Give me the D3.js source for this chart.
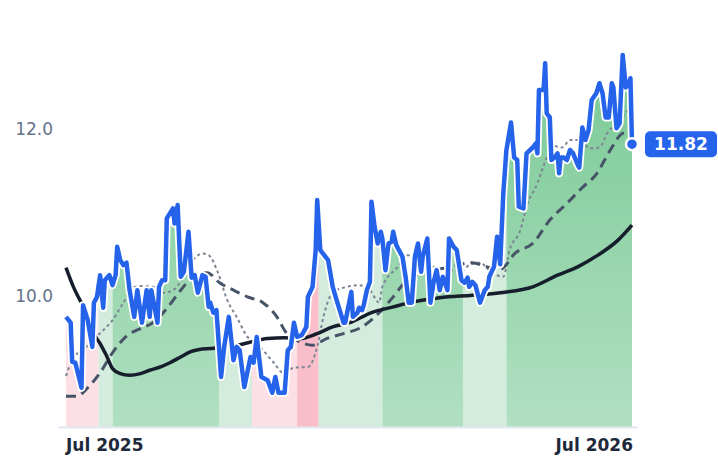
<!DOCTYPE html>
<html><head><meta charset="utf-8">
<script src="https://cdn.jsdelivr.net/npm/d3@7"></script>
<style>body{margin:0;background:#fff}svg{display:block;font-family:"DejaVu Sans",sans-serif}</style>
</head><body><svg id="c" width="718" height="464"></svg>
<script>
const startDate = "2025-07-01";
const endDate = "2026-07-01";
const xTickLabels = ["Jul 2025", "Jul 2026"];
const yTicks = [10.0, 12.0];
const lastValue = 11.82;
// price: [day offset, value]
const price = [[0,9.75],[3,9.68],[4,9.21],[6,9.20],[10,8.90],[11,9.89],[14,9.71],[17,9.39],[18,9.92],[20,9.99],[22,10.25],[24,9.86],[25,10.19],[28,10.25],[30,10.13],[32,10.25],[33,10.59],[35,10.43],[37,10.37],[39,10.40],[41,10.07],[44,9.75],[46,10.07],[49,9.68],[52,10.07],[54,9.75],[55,10.07],[59,9.68],[60,10.11],[62,10.19],[64,10.19],[65,10.93],[67,10.99],[69,11.05],[70,10.87],[72,11.09],[74,10.23],[76,10.29],[79,10.77],[81,10.22],[83,10.25],[85,10.04],[88,10.25],[90,10.23],[92,9.87],[93,9.92],[95,9.80],[97,9.83],[100,9.03],[102,9.39],[105,9.75],[108,9.23],[110,9.39],[112,9.35],[115,8.91],[119,9.27],[121,9.20],[123,9.51],[126,9.03],[130,8.99],[133,8.84],[135,9.03],[137,8.84],[141,8.84],[143,9.35],[145,9.39],[147,9.68],[149,9.51],[152,9.53],[155,9.63],[156,9.99],[159,10.11],[161,10.55],[162,11.15],[164,10.55],[169,10.43],[172,10.11],[175,9.92],[177,9.80],[179,9.68],[180,9.68],[184,10.05],[185,9.75],[188,9.80],[189,9.86],[191,9.83],[192,9.89],[194,10.07],[196,10.17],[197,11.13],[199,10.83],[201,10.63],[203,10.77],[204,10.69],[206,10.31],[208,10.63],[210,10.65],[211,10.77],[213,10.61],[217,10.47],[219,10.23],[221,9.92],[223,9.92],[225,10.47],[227,10.63],[229,10.29],[230,10.47],[233,10.69],[235,9.92],[237,10.16],[239,10.31],[241,10.07],[243,10.23],[246,10.07],[247,10.69],[250,10.59],[252,10.55],[255,10.19],[257,10.16],[259,10.22],[260,10.11],[262,10.17],[264,10.13],[267,9.92],[270,10.07],[272,10.11],[273,10.23],[276,10.35],[278,10.71],[280,10.38],[282,11.23],[284,11.75],[287,12.08],[289,11.66],[291,11.63],[292,11.07],[295,11.05],[297,11.71],[301,11.78],[303,11.83],[304,11.71],[305,12.47],[308,12.47],[309,12.79],[310,12.19],[312,12.14],[313,11.63],[315,11.66],[317,11.71],[318,11.47],[319,11.66],[321,11.66],[323,11.63],[325,11.75],[327,11.71],[330,11.57],[331,11.54],[333,12.02],[335,11.87],[337,11.99],[339,12.35],[342,12.43],[344,12.55],[346,12.43],[348,12.14],[350,12.14],[352,12.55],[353,12.50],[355,12.01],[357,12.07],[359,12.89],[361,12.50],[363,12.55],[364,12.61],[365,11.82]];
const maLong = [[0,10.34],[5,10.10],[9,9.95],[14,9.79],[17,9.59],[22,9.43],[26,9.29],[30,9.13],[35,9.07],[41,9.05],[48,9.07],[54,9.11],[61,9.15],[67,9.20],[74,9.27],[80,9.33],[86,9.36],[93,9.37],[108,9.40],[130,9.49],[141,9.50],[151,9.49],[162,9.55],[172,9.63],[183,9.68],[197,9.80],[211,9.87],[224,9.93],[241,9.98],[262,10.01],[280,10.04],[301,10.11],[317,10.25],[330,10.35],[343,10.49],[356,10.67],[365,10.85]];
const maMid = [[0,8.80],[7,8.80],[14,8.90],[22,9.08],[30,9.32],[39,9.52],[48,9.61],[56,9.68],[65,9.85],[74,10.07],[82,10.23],[91,10.28],[99,10.16],[108,10.07],[117,9.99],[127,9.92],[136,9.75],[142,9.56],[151,9.45],[159,9.41],[168,9.49],[179,9.55],[190,9.62],[202,9.80],[211,9.99],[220,10.19],[233,10.29],[246,10.34],[262,10.40],[271,10.35],[280,10.32],[290,10.52],[301,10.63],[312,10.91],[323,11.11],[333,11.30],[342,11.46],[351,11.75],[359,11.95],[365,11.97]];
const maShort = [[0,9.04],[5,9.27],[11,9.35],[17,9.47],[24,9.59],[30,9.71],[37,9.92],[43,10.10],[48,10.12],[56,10.11],[63,10.04],[69,10.07],[76,10.23],[82,10.43],[88,10.51],[92,10.49],[98,10.28],[104,9.95],[110,9.75],[117,9.51],[125,9.39],[134,9.20],[140,9.08],[147,9.14],[156,9.15],[162,9.39],[166,9.75],[172,10.04],[181,10.11],[189,10.13],[196,10.07],[202,9.92],[204,10.11],[214,10.35],[220,10.49],[226,10.49],[234,10.40],[241,10.31],[247,10.31],[254,10.29],[260,10.37],[267,10.40],[273,10.31],[282,10.23],[286,10.55],[293,10.79],[297,11.07],[304,11.35],[310,11.66],[314,11.80],[320,11.78],[325,11.87],[331,11.87],[338,11.77],[344,11.78],[349,11.95],[355,12.07],[362,12.22],[365,12.28]];
// regime bands: [startDay, endDay, type]
const bands = [[0,21,"weakBear"],[21,30,"weakBull"],[30,99,"bull"],[99,120,"weakBull"],[120,149,"weakBear"],[149,163,"bear"],[163,204,"weakBull"],[204,256,"bull"],[256,284,"weakBull"],[284,365,"bull"]];

const svg = d3.select("#c");
const t0 = new Date(startDate+"T00:00:00Z");
const dt = d => new Date(t0.getTime()+d*864e5);
const x = d3.scaleUtc().domain([t0, new Date(endDate+"T00:00:00Z")]).range([66,632]);
const y = d3.scaleLinear().domain([8.43,13.5]).range([427,4]);

const defs = svg.append("defs");
const g = defs.append("linearGradient").attr("id","gg").attr("gradientUnits","userSpaceOnUse").attr("x1",0).attr("x2",0).attr("y1",y(12.9)).attr("y2",y(8.43));
g.append("stop").attr("offset",0).attr("stop-color","#79c995");
g.append("stop").attr("offset",1).attr("stop-color","#b1e0c1");
const fills = {bull:"url(#gg)", weakBull:"#d3ecdd", weakBear:"#fde0e5", bear:"#f9bec9"};

const area = d3.area().x(d=>x(dt(d[0]))).y0(y(8.43)).y1(d=>y(d[1]));
bands.forEach((b,i)=>{
  defs.append("clipPath").attr("id","cb"+i).append("rect")
    .attr("x",x(dt(b[0]))).attr("width",x(dt(b[1]))-x(dt(b[0]))).attr("y",0).attr("height",464);
  svg.append("path").datum(price).attr("d",area).attr("fill",fills[b[2]]).attr("clip-path",`url(#cb${i})`);
});

const line = d3.line().x(d=>x(dt(d[0]))).y(d=>y(d[1])).curve(d3.curveMonotoneX);
svg.append("path").datum(maShort).attr("d",line).attr("fill","none").attr("stroke","#7c8593").attr("stroke-width",2).attr("stroke-dasharray","3,3");
svg.append("path").datum(maMid).attr("d",line).attr("fill","none").attr("stroke","#475467").attr("stroke-width",3).attr("stroke-dasharray","10,6");
svg.append("path").datum(maLong).attr("d",line).attr("fill","none").attr("stroke","#161d2c").attr("stroke-width",3.5);

const pl = d3.line().x(d=>x(dt(d[0]))).y(d=>y(d[1]));
svg.append("path").datum(price).attr("d",pl).attr("fill","none").attr("stroke","#fff").attr("stroke-width",8).attr("stroke-linejoin","round");
svg.append("path").datum(price).attr("d",pl).attr("fill","none").attr("stroke","#2563eb").attr("stroke-width",4.5).attr("stroke-linejoin","round");

// axes
svg.append("line").attr("x1",58).attr("x2",638).attr("y1",427.5).attr("y2",427.5).attr("stroke","#e2e8f0").attr("stroke-width",2);
yTicks.forEach(v=>svg.append("text").attr("x",53).attr("y",y(v)).attr("dy","0.35em").attr("text-anchor","end")
  .attr("font-size",17).attr("fill","#64748b").text(d3.format(".1f")(v)));
svg.append("text").attr("x",x(t0)).attr("y",451).attr("font-size",17).attr("font-weight","bold").attr("fill","#1e293b").text(xTickLabels[0]);
svg.append("text").attr("x",x(new Date(endDate+"T00:00:00Z"))+1).attr("y",451).attr("text-anchor","end").attr("font-size",17).attr("font-weight","bold").attr("fill","#1e293b").text(xTickLabels[1]);

// last value marker
const lx = x(dt(365)), ly = y(lastValue);
svg.append("circle").attr("cx",lx).attr("cy",ly).attr("r",6).attr("fill","#2563eb").attr("stroke","#fff").attr("stroke-width",2.5);
svg.append("rect").attr("x",645).attr("y",ly-13).attr("width",72).attr("height",26).attr("rx",5).attr("fill","#2563eb");
svg.append("text").attr("x",681).attr("y",ly).attr("dy","0.36em").attr("text-anchor","middle").attr("font-size",17).attr("font-weight","bold").attr("fill","#fff").text(lastValue.toFixed(2));
</script></body></html>
